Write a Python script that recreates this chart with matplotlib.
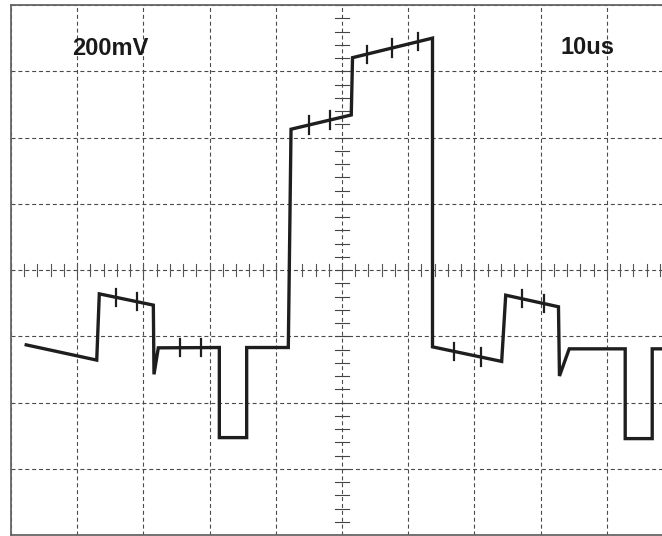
import matplotlib
matplotlib.use('Agg')
import matplotlib.pyplot as plt
import numpy as np

# scope settings: 200 mV/div, 10 us/div
t_us = [-47.7, -37.05, -36.66, -28.5, -28.4, -27.75, -18.53, -18.53, -14.4, -14.4,
        -8.11, -7.7, 1.4, 1.59, 13.67, 13.67, 24.12, 24.73, 32.7, 32.85,
        34.32, 42.78, 42.78, 46.86, 46.86, 52.0]
v_mV = [-226, -272, -72, -106, -315, -235, -234, -506, -506, -234,
        -234, 425, 468, 641, 700, -232, -276, -76, -111, -320,
        -238, -238, -509, -509, -238, -238]

# cursor marks along the trace
mark_t = [-34.18, -30.92, -24.47, -21.25, -5.03, -1.77, 3.78, 7.55, 11.48,
          16.87, 20.95, 27.15, 30.47]

fig = plt.figure(figsize=(6.62, 5.36), dpi=100)
ax = fig.add_axes([11/662, 1/536, 662/662, 530/536])
ax.set_xlim(-50, 50)
ax.set_ylim(-800, 800)

# graticule
ax.set_xticks(np.arange(-50, 51, 10))
ax.set_yticks(np.arange(-800, 801, 200))
ax.grid(True, color='#4a4a4a', lw=0.8, ls=(0, (3.6, 2.6)))
ax.tick_params(length=0, labelbottom=False, labelleft=False)
for s in ax.spines.values():
    s.set_color('#666666')
    s.set_linewidth(1.3)

# minor ticks on the centre lines
for x in np.arange(-50, 51, 2):
    ax.plot([x, x], [-18, 18], color='#555555', lw=0.8)
for y in np.arange(-800, 801, 40):
    ax.plot([-1.05, 1.05], [y, y], color='#444444', lw=0.8)

# trace
ax.plot(t_us, v_mV, color='#1e1e1e', lw=2.4, solid_joinstyle='miter')
mark_v = np.interp(mark_t, t_us, v_mV)
for x, y in zip(mark_t, mark_v):
    ax.plot([x, x], [y - 26, y + 26], color='#1e1e1e', lw=1.6)

ax.text(-40.8, 670, '200mV', fontsize=17, fontweight='bold',
        family='Liberation Sans', va='center', ha='left', color='#1a1a1a')
ax.text(33.0, 673, '10us', fontsize=17, fontweight='bold',
        family='Liberation Sans', va='center', ha='left', color='#1a1a1a')

fig.savefig('out.png', dpi=100)
